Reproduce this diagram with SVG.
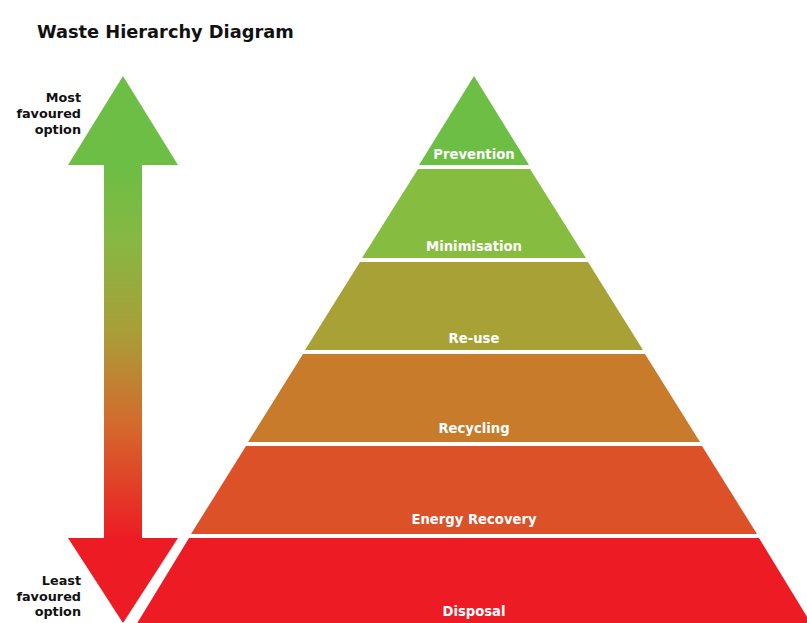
<svg xmlns="http://www.w3.org/2000/svg" width="807" height="623" viewBox="0 0 807 623">
<style>
.title{font-family:"DejaVu Sans",Verdana,sans-serif;font-weight:bold;font-size:17.8px;fill:#111}
.side{font-family:"DejaVu Sans",Verdana,sans-serif;font-weight:bold;font-size:12.8px;fill:#111;text-anchor:end}
.lbl{font-family:"DejaVu Sans",Verdana,sans-serif;font-weight:bold;font-size:13.2px;fill:#fff;text-anchor:middle}
</style>
<defs>
<linearGradient id="shaft" x1="0" y1="165" x2="0" y2="538" gradientUnits="userSpaceOnUse">
<stop offset="0" stop-color="#6dbe45"/>
<stop offset="0.2" stop-color="#86b842"/>
<stop offset="0.45" stop-color="#a99e38"/>
<stop offset="0.7" stop-color="#d4692c"/>
<stop offset="1" stop-color="#ed1c24"/>
</linearGradient>
</defs>
<text class="title" x="37" y="38">Waste Hierarchy Diagram</text>
<g id="scale-arrow">
<rect x="104" y="164" width="38" height="375" fill="url(#shaft)"/>
<polygon points="123,76 178,165 68,165" fill="#6dbe45"/>
<polygon points="68,538 178,538 123,623" fill="#ed1c24"/>
</g>
<g id="most">
<text class="side" x="81" y="102">Most</text>
<text class="side" x="81" y="118">favoured</text>
<text class="side" x="81" y="134">option</text>
</g>
<g id="least">
<text class="side" x="81" y="585">Least</text>
<text class="side" x="81" y="601">favoured</text>
<text class="side" x="81" y="616">option</text>
</g>
<g id="prevention">
<polygon points="474,76 529,165 419,165" fill="#6dbe45"/>
<text class="lbl" x="474" y="159">Prevention</text>
</g>
<g id="minimisation">
<polygon points="418,169 530,169 586,258 362,258" fill="#86bd40"/>
<text class="lbl" x="474" y="251">Minimisation</text>
</g>
<g id="reuse">
<polygon points="360,262 588,262 643,350 305,350" fill="#a8a136"/>
<text class="lbl" x="474" y="343">Re-use</text>
</g>
<g id="recycling">
<polygon points="303,354 645,354 700,442 248,442" fill="#c87b2a"/>
<text class="lbl" x="474" y="433">Recycling</text>
</g>
<g id="energy">
<polygon points="246,446 702,446 757,534 191,534" fill="#dc5127"/>
<text class="lbl" x="474" y="524">Energy Recovery</text>
</g>
<g id="disposal">
<polygon points="189,538 759,538 815,630 133,630" fill="#ed1c24"/>
<text class="lbl" x="474" y="616">Disposal</text>
</g>
</svg>
